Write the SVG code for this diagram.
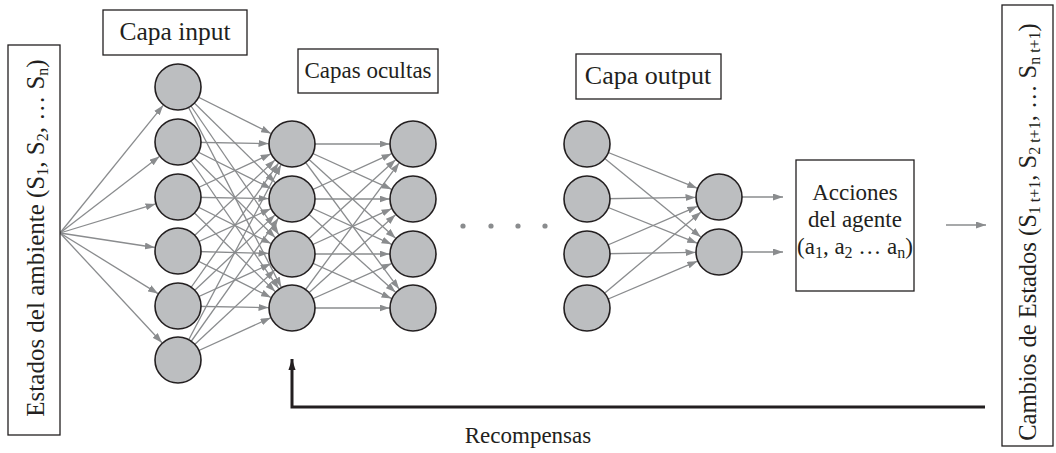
<svg xmlns="http://www.w3.org/2000/svg" width="1056" height="453" viewBox="0 0 1056 453">
<style>
  .box { fill: #ffffff; stroke: #231f20; stroke-width: 1.3; }
  .neuron { fill: #bcbec0; stroke: #231f20; stroke-width: 1.6; }
  .lbl { font-family: "Liberation Serif", "Times New Roman", serif; fill: #231f20; }
  .edge { stroke: #8a8c8e; stroke-width: 1.3; fill: none; marker-end: url(#ah); }
  .sub { font-size: 16px; }
</style>
<defs>
  <marker id="ah" markerUnits="userSpaceOnUse" markerWidth="10" markerHeight="7" refX="10" refY="3.5" orient="auto">
    <path d="M0,0 L10,3.5 L0,7 z" fill="#8a8c8e"/>
  </marker>
  <marker id="ahb" markerUnits="userSpaceOnUse" markerWidth="11" markerHeight="18" refX="17" refY="5.5" orient="auto" viewBox="0 0 17 11">
    <path d="M0,0 L17,5.5 L0,11 z" fill="#231f20"/>
  </marker>
</defs>
<rect width="1056" height="453" fill="#ffffff"/>

<g id="connectors">
  <!-- environment to input -->
  <line class="edge" x1="60" y1="233" x2="163.2" y2="105.3"/>
  <line class="edge" x1="60" y1="233" x2="159.4" y2="156.4"/>
  <line class="edge" x1="60" y1="233" x2="155.5" y2="203.9"/>
  <line class="edge" x1="60" y1="233" x2="154.8" y2="247.5"/>
  <line class="edge" x1="60" y1="233" x2="158.0" y2="293.6"/>
  <line class="edge" x1="60" y1="233" x2="162.0" y2="342.8"/>
  <!-- input to hidden1 -->
  <line class="edge" x1="178" y1="87" x2="271.0" y2="133.5"/>
  <line class="edge" x1="178" y1="142" x2="268.5" y2="143.6"/>
  <line class="edge" x1="178" y1="197" x2="270.7" y2="153.9"/>
  <line class="edge" x1="178" y1="251" x2="274.9" y2="160.1"/>
  <line class="edge" x1="178" y1="306" x2="278.5" y2="163.2"/>
  <line class="edge" x1="178" y1="360" x2="281.0" y2="164.8"/>
  <line class="edge" x1="178" y1="87" x2="275.2" y2="182.5"/>
  <line class="edge" x1="178" y1="142" x2="271.0" y2="188.5"/>
  <line class="edge" x1="178" y1="197" x2="268.5" y2="198.6"/>
  <line class="edge" x1="178" y1="251" x2="270.6" y2="208.8"/>
  <line class="edge" x1="178" y1="306" x2="274.9" y2="215.1"/>
  <line class="edge" x1="178" y1="360" x2="278.4" y2="218.2"/>
  <line class="edge" x1="178" y1="87" x2="278.8" y2="234.6"/>
  <line class="edge" x1="178" y1="142" x2="275.2" y2="237.5"/>
  <line class="edge" x1="178" y1="197" x2="271.0" y2="243.5"/>
  <line class="edge" x1="178" y1="251" x2="268.5" y2="253.4"/>
  <line class="edge" x1="178" y1="306" x2="270.6" y2="263.8"/>
  <line class="edge" x1="178" y1="360" x2="274.8" y2="270.0"/>
  <line class="edge" x1="178" y1="87" x2="281.2" y2="287.1"/>
  <line class="edge" x1="178" y1="142" x2="278.7" y2="288.6"/>
  <line class="edge" x1="178" y1="197" x2="275.2" y2="291.6"/>
  <line class="edge" x1="178" y1="251" x2="271.0" y2="297.5"/>
  <line class="edge" x1="178" y1="306" x2="268.5" y2="307.6"/>
  <line class="edge" x1="178" y1="360" x2="270.6" y2="317.8"/>
  <!-- hidden1 to hidden2 -->
  <line class="edge" x1="292" y1="144" x2="389.5" y2="144"/>
  <line class="edge" x1="292" y1="199" x2="391.6" y2="153.7"/>
  <line class="edge" x1="292" y1="254" x2="395.6" y2="159.8"/>
  <line class="edge" x1="292" y1="308" x2="399.1" y2="162.9"/>
  <line class="edge" x1="292" y1="144" x2="391.6" y2="189.3"/>
  <line class="edge" x1="292" y1="199" x2="389.5" y2="199"/>
  <line class="edge" x1="292" y1="254" x2="391.6" y2="208.7"/>
  <line class="edge" x1="292" y1="308" x2="395.5" y2="214.7"/>
  <line class="edge" x1="292" y1="144" x2="395.6" y2="238.2"/>
  <line class="edge" x1="292" y1="199" x2="391.6" y2="244.3"/>
  <line class="edge" x1="292" y1="254" x2="389.5" y2="254"/>
  <line class="edge" x1="292" y1="308" x2="391.5" y2="263.6"/>
  <line class="edge" x1="292" y1="144" x2="399.1" y2="289.1"/>
  <line class="edge" x1="292" y1="199" x2="395.5" y2="292.3"/>
  <line class="edge" x1="292" y1="254" x2="391.5" y2="298.4"/>
  <line class="edge" x1="292" y1="308" x2="389.5" y2="308"/>
  <!-- output to final -->
  <line class="edge" x1="587" y1="144" x2="697.2" y2="188.2"/>
  <line class="edge" x1="587" y1="199" x2="695.5" y2="197.4"/>
  <line class="edge" x1="587" y1="254" x2="697.4" y2="206.3"/>
  <line class="edge" x1="587" y1="308" x2="701.0" y2="212.1"/>
  <line class="edge" x1="587" y1="144" x2="700.8" y2="237.1"/>
  <line class="edge" x1="587" y1="199" x2="697.2" y2="243.2"/>
  <line class="edge" x1="587" y1="254" x2="695.5" y2="252.4"/>
  <line class="edge" x1="587" y1="308" x2="697.4" y2="261.2"/>
  <!-- final to actions -->
  <line class="edge" x1="742" y1="197" x2="783" y2="197"/>
  <line class="edge" x1="742" y1="252" x2="783" y2="252"/>
  <!-- actions to state changes -->
  <line class="edge" x1="946" y1="225" x2="986" y2="225"/>
  <!-- reward feedback -->
  <path d="M985,407 H292 V359" fill="none" stroke="#231f20" stroke-width="3" marker-end="url(#ahb)"/>
</g>

<g id="dots" fill="#8a8c8e">
  <circle cx="463" cy="226" r="2.6"/>
  <circle cx="491" cy="226" r="2.6"/>
  <circle cx="518" cy="226" r="2.6"/>
  <circle cx="545" cy="226" r="2.6"/>
</g>

<g id="input-layer">
  <circle class="neuron" cx="178" cy="87" r="23"/>
  <circle class="neuron" cx="178" cy="142" r="23"/>
  <circle class="neuron" cx="178" cy="197" r="23"/>
  <circle class="neuron" cx="178" cy="251" r="23"/>
  <circle class="neuron" cx="178" cy="306" r="23"/>
  <circle class="neuron" cx="178" cy="360" r="23"/>
</g>
<g id="hidden-layer-1">
  <circle class="neuron" cx="292" cy="144" r="23"/>
  <circle class="neuron" cx="292" cy="199" r="23"/>
  <circle class="neuron" cx="292" cy="254" r="23"/>
  <circle class="neuron" cx="292" cy="308" r="23"/>
</g>
<g id="hidden-layer-2">
  <circle class="neuron" cx="413" cy="144" r="23"/>
  <circle class="neuron" cx="413" cy="199" r="23"/>
  <circle class="neuron" cx="413" cy="254" r="23"/>
  <circle class="neuron" cx="413" cy="308" r="23"/>
</g>
<g id="output-layer">
  <circle class="neuron" cx="587" cy="144" r="23"/>
  <circle class="neuron" cx="587" cy="199" r="23"/>
  <circle class="neuron" cx="587" cy="254" r="23"/>
  <circle class="neuron" cx="587" cy="308" r="23"/>
</g>
<g id="final-layer">
  <circle class="neuron" cx="719" cy="197" r="23"/>
  <circle class="neuron" cx="719" cy="252" r="23"/>
</g>

<g id="env-states">
  <rect class="box" x="8" y="45" width="52" height="390"/>
  <text class="lbl" font-size="25" text-anchor="middle" transform="translate(44,238) rotate(-90)">Estados del ambiente (S<tspan class="sub" dy="4">1</tspan><tspan dy="-4">, S</tspan><tspan class="sub" dy="4">2</tspan><tspan dy="-4">, … S</tspan><tspan class="sub" dy="4">n</tspan><tspan dy="-4">)</tspan></text>
</g>

<g id="state-changes">
  <rect class="box" x="1002" y="5" width="51" height="441"/>
  <text class="lbl" font-size="24.5" text-anchor="middle" transform="translate(1036,232) rotate(-90)">Cambios de Estados (S<tspan class="sub" dy="4">1 t+1</tspan><tspan dy="-4">, S</tspan><tspan class="sub" dy="4">2 t+1</tspan><tspan dy="-4">, … S</tspan><tspan class="sub" dy="4">n t+1</tspan><tspan dy="-4">)</tspan></text>
</g>

<g id="label-input">
  <rect class="box" x="103" y="10" width="144" height="45"/>
  <text class="lbl" font-size="25.5" x="175" y="40" text-anchor="middle">Capa input</text>
</g>
<g id="label-hidden">
  <rect class="box" x="298" y="49" width="140" height="44"/>
  <text class="lbl" font-size="23" x="368" y="78" text-anchor="middle">Capas ocultas</text>
</g>
<g id="label-output">
  <rect class="box" x="576" y="54" width="145" height="45"/>
  <text class="lbl" font-size="26" x="648" y="84" text-anchor="middle">Capa output</text>
</g>

<g id="actions">
  <rect class="box" x="796" y="160" width="118" height="131"/>
  <text class="lbl" font-size="23" text-anchor="middle" x="855" y="200">Acciones</text>
  <text class="lbl" font-size="23" text-anchor="middle" x="855" y="227">del agente</text>
  <text class="lbl" font-size="23" text-anchor="middle" x="855" y="254">(a<tspan class="sub" dy="4">1</tspan><tspan dy="-4">, a</tspan><tspan class="sub" dy="4">2</tspan><tspan dy="-4"> … a</tspan><tspan class="sub" dy="4">n</tspan><tspan dy="-4">)</tspan></text>
</g>

<g id="reward-label">
  <text class="lbl" font-size="23" x="528" y="443" text-anchor="middle">Recompensas</text>
</g>
</svg>
